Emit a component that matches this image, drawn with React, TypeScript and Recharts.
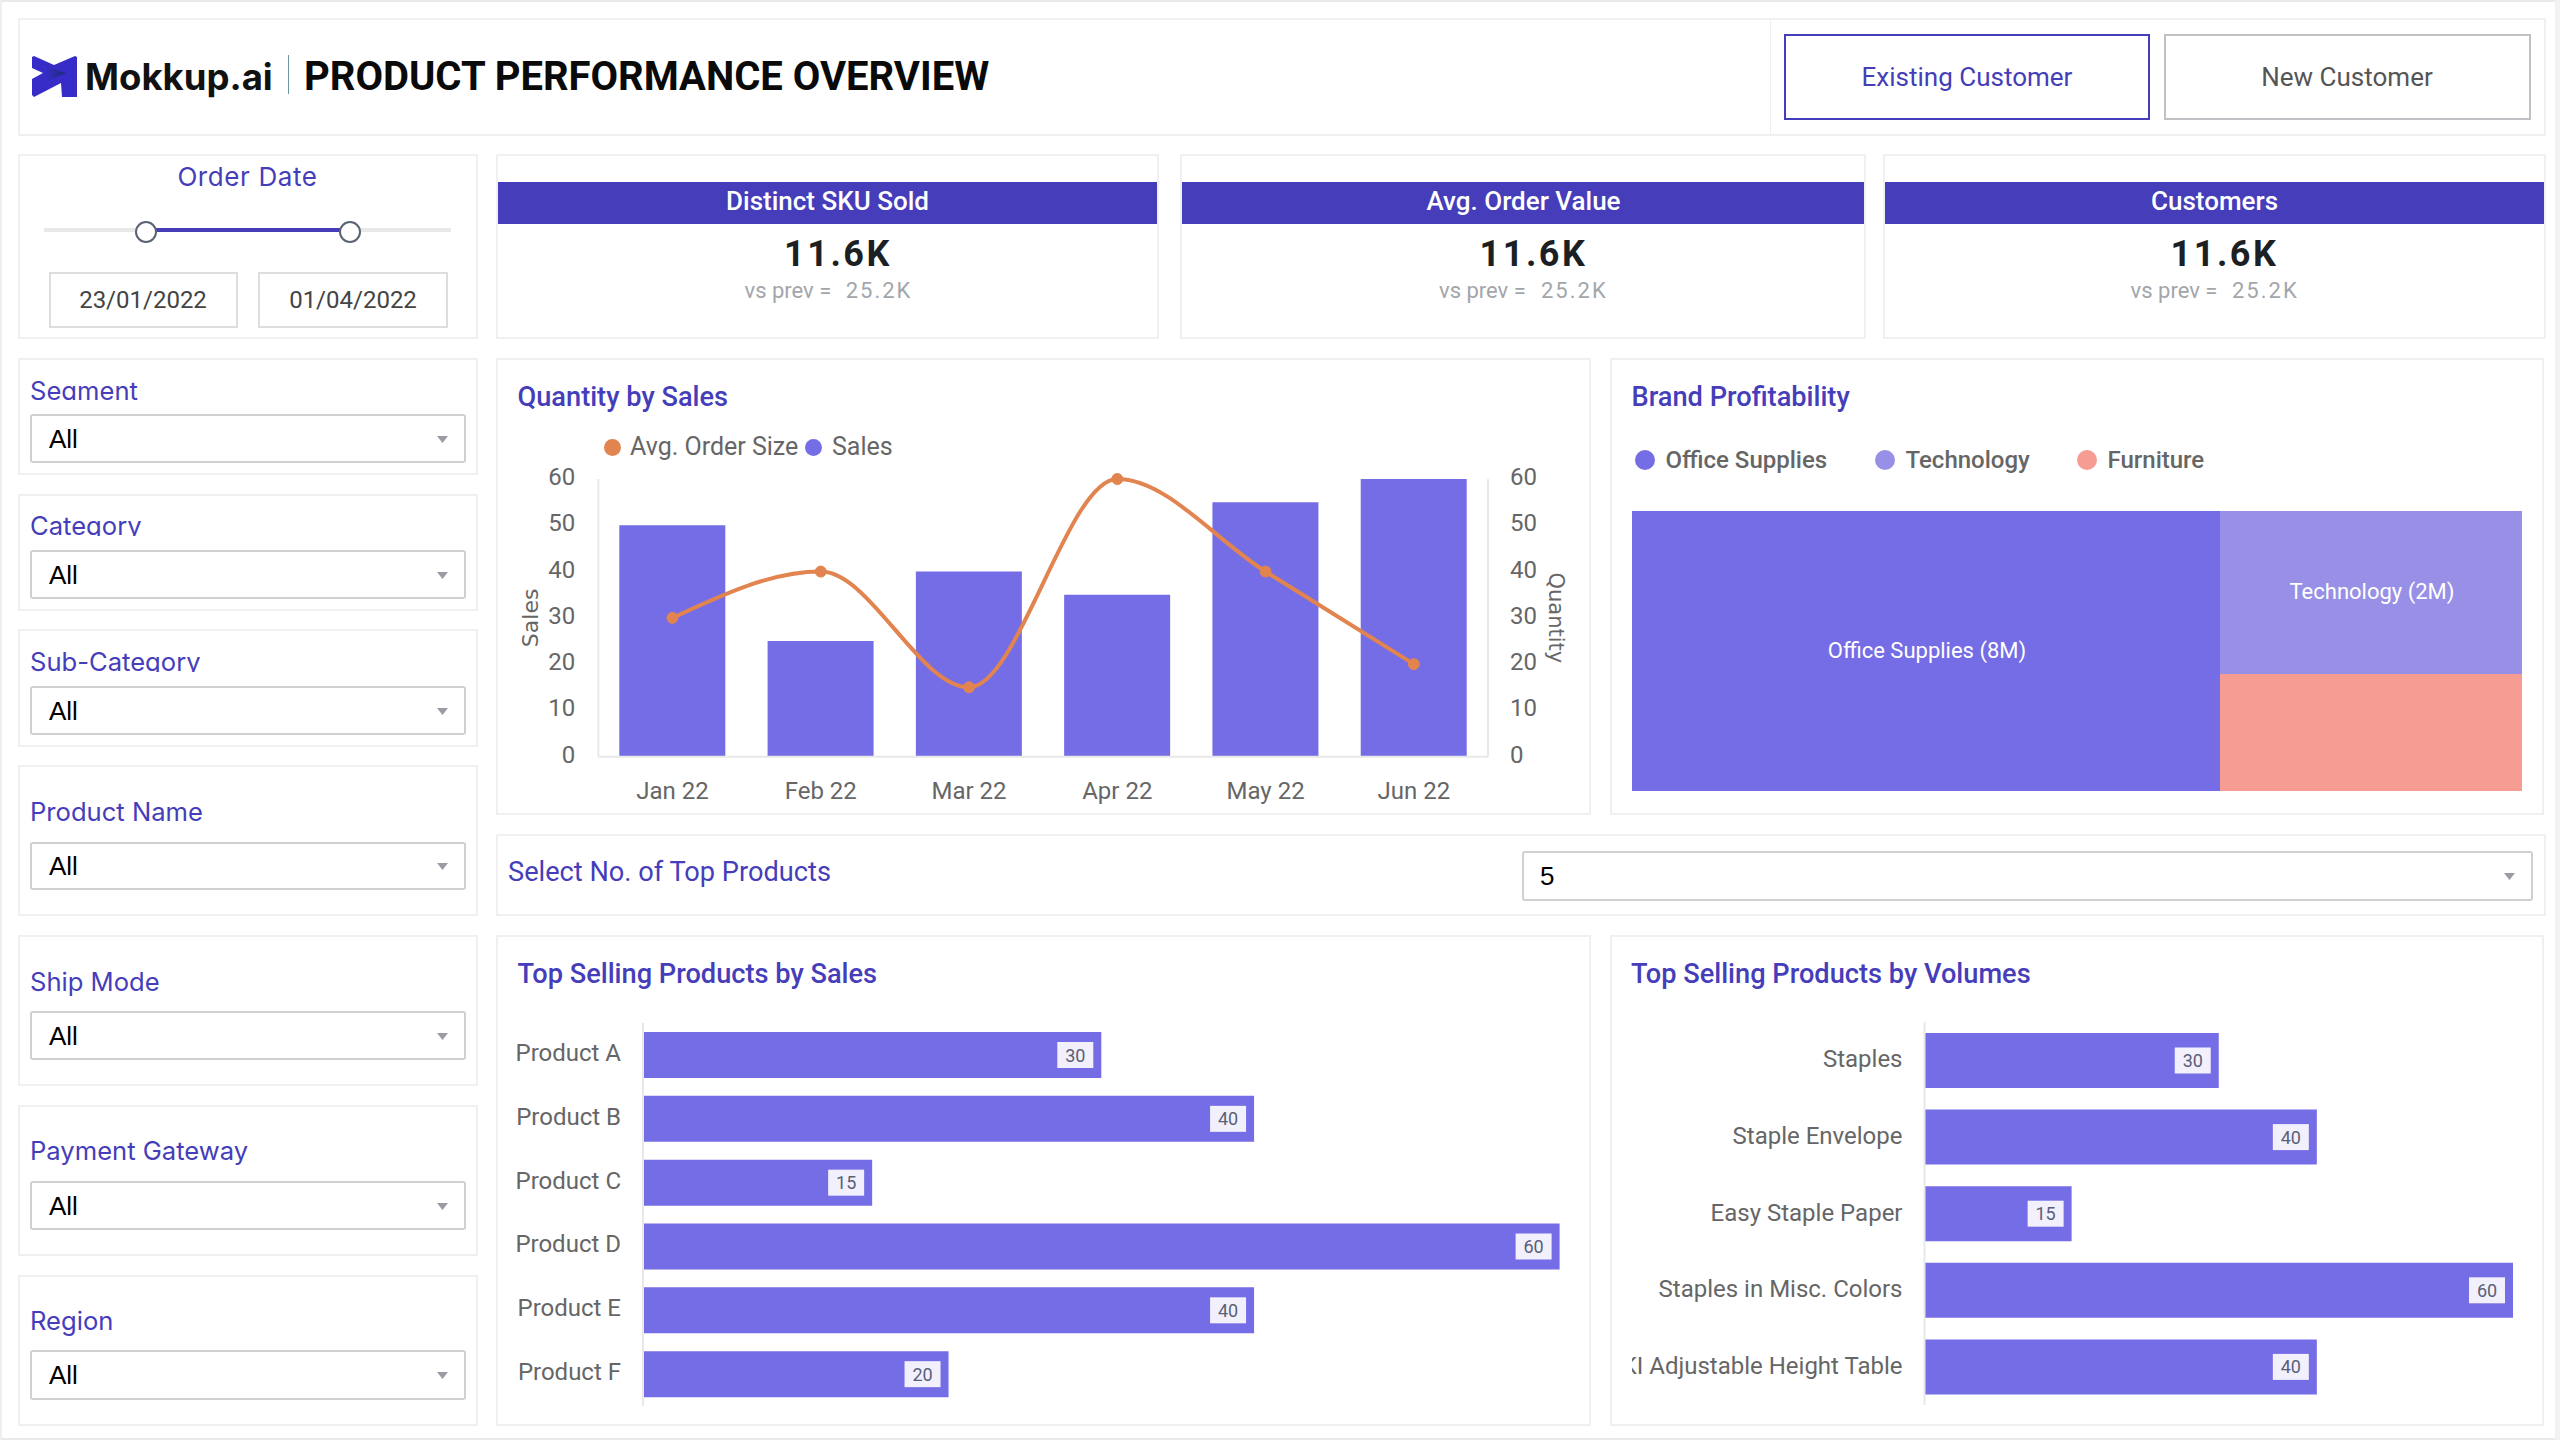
import React from "react";
import { ComposedChart, BarChart, Bar, Line, XAxis, YAxis, Treemap, LabelList } from "recharts";

const months = ["Jan 22", "Feb 22", "Mar 22", "Apr 22", "May 22", "Jun 22"];
const salesValues = [50, 25, 40, 35, 55, 60];
const orderSizeValues = [30, 40, 15, 60, 40, 20];
const axisTicks = [0, 10, 20, 30, 40, 50, 60];

const brandNames = ["Office Supplies", "Technology", "Furniture"];
const brandValues = [8, 2.38, 1.72];
const brandLabels = ["Office Supplies (8M)", "Technology (2M)", ""];
const brandColors = ["#746DE5", "#9890E6", "#F69C93"];

const topSalesNames = ["Product A", "Product B", "Product C", "Product D", "Product E", "Product F"];
const topSalesValues = [30, 40, 15, 60, 40, 20];
const topVolumeNames = ["Staples", "Staple Envelope", "Easy Staple Paper", "Staples in Misc. Colors", "KI Adjustable Height Table"];
const topVolumeValues = [30, 40, 15, 60, 40];

const INDIGO = "#453DBA";
const BAR = "#746DE5";
const ORANGE = "#E2844F";
const GRAY = "#666666";
const LINE = "#E8E8E8";
const SANS = "Roboto, sans-serif";
const LABEL = "Inter, sans-serif";

const comboData = months.map((m, i) => ({ month: m, sales: salesValues[i], size: orderSizeValues[i] }));
const brandData = brandNames.map((n, i) => ({ name: n, value: brandValues[i], idx: i }));
const salesData = topSalesNames.map((n, i) => ({ name: n, value: topSalesValues[i] }));
const volumeData = topVolumeNames.map((n, i) => ({ name: n, value: topVolumeValues[i] }));

function Panel({ l, t, r, b, color = "#F0F0F0", radius = 0, children }: any) {
  return (
    <div style={{ position: "absolute", left: l, top: t, width: r - l, height: b - t, boxSizing: "border-box", border: `2px solid ${color}`, borderRadius: radius, background: "#fff" }}>
      {children}
    </div>
  );
}

function T({ x, y, text, size = 24, color = GRAY, weight = 400, font = SANS, align = "left", spacing = 0, clipBottom }: any) {
  const lh = 40;
  const style: any = {
    position: "absolute",
    top: y - lh / 2,
    lineHeight: `${lh}px`,
    height: clipBottom != null ? clipBottom - (y - lh / 2) : lh,
    overflow: clipBottom != null ? "hidden" : "visible",
    fontSize: size,
    color,
    fontWeight: weight,
    fontFamily: font,
    letterSpacing: spacing,
    whiteSpace: "pre",
  };
  if (align === "left") style.left = x;
  if (align === "center") { style.left = x - 500; style.width = 1000; style.textAlign = "center"; }
  if (align === "right") { style.left = x - 1000; style.width = 1000; style.textAlign = "right"; }
  return <div style={style}>{text}</div>;
}

function Dot({ x, y, r, color }: any) {
  return <div style={{ position: "absolute", left: x - r, top: y - r, width: r * 2, height: r * 2, borderRadius: "50%", background: color }} />;
}

function Select({ l, t, r, b, value, textInset = 19 }: any) {
  const cy = (t + b) / 2;
  return (
    <>
      <Panel l={l} t={t} r={r} b={b} color="#D0D0D0" radius={3} />
      <T x={l + textInset} y={cy} text={value} size={26} color="#000" font="'Liberation Sans', Arial, sans-serif" />
      <svg style={{ position: "absolute", left: r - 29, top: cy - 3, width: 11, height: 7 }} viewBox="0 0 11 7">
        <polygon points="0,0 11,0 5.5,7" fill="#9A9CA5" />
      </svg>
    </>
  );
}

const filterBlocks = [
  { name: "Segment", t: 358, b: 475, ly: 391, clip: 400, st: 414, sb: 463 },
  { name: "Category", t: 494, b: 611, ly: 526, clip: 536, st: 550, sb: 599 },
  { name: "Sub-Category", t: 629, b: 747, ly: 661.5, clip: 672, st: 686, sb: 735 },
  { name: "Product Name", t: 765, b: 916, ly: 811.5, st: 842, sb: 890 },
  { name: "Ship Mode", t: 935, b: 1086, ly: 981.5, st: 1011, sb: 1060 },
  { name: "Payment Gateway", t: 1105, b: 1256, ly: 1150.5, st: 1181, sb: 1230 },
  { name: "Region", t: 1275, b: 1426, ly: 1320.5, st: 1350, sb: 1400 },
];

const kpis = [
  { title: "Distinct SKU Sold", l: 496, r: 1159, tc: 827.5, vc: 838, a: 744.5, c: 845.7 },
  { title: "Avg. Order Value", l: 1180, r: 1866, tc: 1523.5, vc: 1533.5, a: 1439, c: 1541 },
  { title: "Customers", l: 1883, r: 2546, tc: 2214.5, vc: 2224.5, a: 2130.6, c: 2232 },
];

function ValueTag({ x, y, width, height, value, inset }: any) {
  const right = x + width - inset;
  const cy = y + height / 2;
  return (
    <g>
      <rect x={right - 36} y={cy - 13} width={36} height={26} fill="#F1F0FC" />
      <text x={right - 18} y={cy} textAnchor="middle" dominantBaseline="central" fontSize={18} fontFamily={SANS} fill="#5A5E78">{value}</text>
    </g>
  );
}

function NameTick({ x, y, payload, dy }: any) {
  return (
    <text x={x} y={y + dy} textAnchor="end" dominantBaseline="central" fontSize={24} fontFamily={SANS} fill={GRAY}>
      {payload.value}
    </text>
  );
}

function BrandCell(props: any) {
  const { x, y, width, height, depth, idx } = props;
  if (depth !== 1) return <g />;
  return (
    <g>
      <rect x={x} y={y} width={width} height={height} fill={brandColors[idx]} stroke="none" />
      <text x={x + width / 2 + 1} y={y + height / 2 - 1} textAnchor="middle" dominantBaseline="central" fontSize={22} fontFamily={SANS} fill="#fff">
        {brandLabels[idx]}
      </text>
    </g>
  );
}

const axisTick = { fontSize: 24, fontFamily: SANS, fill: GRAY };
const yAxisTick = { ...axisTick, dy: -2.5 };
const axisLine = { stroke: LINE, strokeWidth: 2 };

export default function App() {
  return (
    <div style={{ position: "absolute", left: 0, top: 0, width: 2560, height: 1440, overflow: "hidden", background: "#fff", fontFamily: SANS }}>
      <div style={{ position: "absolute", left: 0, top: 0, width: 2560, height: 2, background: "#EAEAEA" }} />
      <div style={{ position: "absolute", left: 0, top: 1438, width: 2560, height: 2, background: "#EAEAEA" }} />
      <div style={{ position: "absolute", left: 0, top: 0, width: 2, height: 1440, background: "#EFEFEF" }} />
      <div style={{ position: "absolute", left: 2555, top: 0, width: 5, height: 1440, background: "#F2F2F2" }} />

      {/* header */}
      <Panel l={18} t={18} r={2546} b={136} />
      <div style={{ position: "absolute", left: 1770, top: 20, width: 1, height: 114, background: "#EFEFEF" }} />
      <svg style={{ position: "absolute", left: 32, top: 56, width: 45, height: 41 }} viewBox="0 0 45 41">
        <defs>
          <linearGradient id="lg" x1="0" x2="1" y1="0" y2="0">
            <stop offset="0" stopColor="#3A2FD0" />
            <stop offset="1" stopColor="#1C2A78" />
          </linearGradient>
        </defs>
        <polygon points="0,1 2,0 22,9 43,0 45,1 45,41 30,41 29,27 2,41 0,39 0,23 11,17 0,12" fill="#372CC8" />
        <polygon points="11,9 34,17 11,27 16,17" fill="url(#lg)" />
      </svg>
      <T x={85} y={77} text="Mokkup.ai" size={36.5} color="#111" weight={700} font={LABEL} />
      <div style={{ position: "absolute", left: 288, top: 55, width: 1, height: 39, background: "#6A9AA0" }} />
      <T x={304} y={76.5} text="PRODUCT PERFORMANCE OVERVIEW" size={40} color="#0A0A0A" weight={700} />
      <Panel l={1784} t={34} r={2150} b={120} color={INDIGO} />
      <T x={1967} y={77} text="Existing Customer" size={26} color={INDIGO} align="center" />
      <Panel l={2164} t={34} r={2531} b={120} color="#C0C0C5" />
      <T x={2347} y={77} text="New Customer" size={26} color="#555" align="center" />

      {/* date */}
      <Panel l={18} t={154} r={478} b={339} />
      <T x={247.5} y={177} text="Order Date" size={26} color={INDIGO} align="center" spacing={0.6} font={LABEL} />
      <div style={{ position: "absolute", left: 44, top: 228, width: 407, height: 4, background: "#E8E8E8" }} />
      <div style={{ position: "absolute", left: 146, top: 228, width: 204, height: 4, background: INDIGO }} />
      {[146, 349.5].map((cx) => (
        <div key={cx} style={{ position: "absolute", left: cx - 11, top: 221, width: 22, height: 22, boxSizing: "border-box", borderRadius: "50%", background: "#fff", border: "2px solid #5A6275" }} />
      ))}
      <Panel l={49} t={272} r={238} b={328} color="#DDDDDD" />
      <T x={143} y={300} text="23/01/2022" size={24} color="#444" align="center" />
      <Panel l={258} t={272} r={448} b={328} color="#DDDDDD" />
      <T x={353} y={300} text="01/04/2022" size={24} color="#444" align="center" />

      {/* kpis */}
      {kpis.map((k) => (
        <React.Fragment key={k.title}>
          <Panel l={k.l} t={154} r={k.r} b={339} />
          <div style={{ position: "absolute", left: k.l + 2, top: 182, width: k.r - k.l - 4, height: 42, background: INDIGO }} />
          <T x={k.tc} y={201} text={k.title} size={26} color="#fff" weight={500} align="center" />
          <T x={k.vc} y={254} text="11.6K" size={36} color="#1C1F24" weight={700} align="center" spacing={2.5} />
          <T x={k.a} y={291} text="vs prev =" size={22} color="#A2A6AB" />
          <T x={k.c} y={291} text="25.2K" size={22} color="#A2A6AB" spacing={2} />
        </React.Fragment>
      ))}

      {/* filters */}
      {filterBlocks.map((f) => (
        <React.Fragment key={f.name}>
          <Panel l={18} t={f.t} r={478} b={f.b} />
          <T x={30} y={f.ly} text={f.name} size={25.6} color={INDIGO} font={LABEL} clipBottom={f.clip} />
          <Select l={30} t={f.st} r={466} b={f.sb} value="All" />
        </React.Fragment>
      ))}

      {/* quantity by sales */}
      <Panel l={496} t={358} r={1591} b={815} />
      <T x={517.5} y={397} text="Quantity by Sales" size={27.2} color={INDIGO} weight={500} />
      <Dot x={612.6} y={447} r={8.5} color={ORANGE} />
      <T x={630} y={446.5} text="Avg. Order Size" size={25} />
      <Dot x={813.7} y={447} r={8.5} color={BAR} />
      <T x={832} y={446.5} text="Sales" size={25} />
      <div style={{ position: "absolute", left: 496, top: 358 }}>
        <ComposedChart width={1095} height={457} data={comboData} margin={{ top: 121, right: 0, bottom: 0, left: 0 }}>
          <XAxis dataKey="month" axisLine={axisLine} tickLine={false} tickSize={0} tickMargin={25} tick={axisTick} height={58.3} />
          <YAxis yAxisId="left" orientation="left" domain={[0, 60]} ticks={axisTicks} width={102.3} axisLine={axisLine} tickLine={false} tickSize={0} tickMargin={23} tick={yAxisTick} interval={0}
            label={{ value: "Sales", angle: -90, position: "insideLeft", offset: 34.5, style: { textAnchor: "middle", fontFamily: "'DejaVu Sans'", fontSize: 22, fill: GRAY } }} />
          <YAxis yAxisId="right" orientation="right" domain={[0, 60]} ticks={axisTicks} width={103} axisLine={axisLine} tickLine={false} tickSize={0} tickMargin={22} tick={yAxisTick} interval={0}
            label={{ value: "Quantity", angle: 90, position: "insideRight", offset: 34.5, style: { textAnchor: "middle", fontFamily: "'DejaVu Sans'", fontSize: 21, fill: GRAY } }} />
          <Bar yAxisId="left" dataKey="sales" fill={BAR} barSize={106} isAnimationActive={false} />
          <Line yAxisId="right" dataKey="size" type="monotone" stroke={ORANGE} strokeWidth={4} dot={{ r: 5.5, fill: ORANGE, stroke: ORANGE, strokeWidth: 1 }} isAnimationActive={false} />
        </ComposedChart>
      </div>

      {/* brand profitability */}
      <Panel l={1610} t={358} r={2544} b={815} />
      <T x={1631.5} y={397} text="Brand Profitability" size={27.2} color={INDIGO} weight={500} />
      {[{ d: 1645, t: 1665.5 }, { d: 1885, t: 1905.5 }, { d: 2087, t: 2107.5 }].map((p, i) => (
        <React.Fragment key={i}>
          <Dot x={p.d} y={459.5} r={10} color={brandColors[i]} />
          <T x={p.t} y={459.5} text={brandNames[i]} size={24} weight={500} />
        </React.Fragment>
      ))}
      <div style={{ position: "absolute", left: 1632, top: 510.5 }}>
        <Treemap width={890} height={280.5} data={brandData} dataKey="value" nameKey="name" content={<BrandCell />} stroke="none" isAnimationActive={false} />
      </div>

      {/* top products selector */}
      <Panel l={496} t={834} r={2546} b={916} />
      <T x={508} y={872} text="Select No. of Top Products" size={27.2} color={INDIGO} />
      <Select l={1522} t={851} r={2533} b={901} value="5" textInset={18} />

      {/* top by sales */}
      <Panel l={496} t={935} r={1591} b={1426} />
      <T x={517.5} y={974} text="Top Selling Products by Sales" size={27.2} color={INDIGO} weight={500} />
      <div style={{ position: "absolute", left: 496, top: 935 }}>
        <BarChart width={1095} height={491} data={salesData} layout="vertical" margin={{ top: 88, right: 31.4, bottom: 20, left: 0 }}>
          <XAxis type="number" domain={[0, 60]} hide />
          <YAxis type="category" dataKey="name" width={147} axisLine={axisLine} tickLine={false} tickSize={0} tickMargin={22} interval={0} tick={<NameTick dy={-2} />} />
          <Bar dataKey="value" fill={BAR} barSize={46} isAnimationActive={false}>
            <LabelList dataKey="value" content={(p: any) => <ValueTag {...p} inset={8} />} />
          </Bar>
        </BarChart>
      </div>

      {/* top by volumes */}
      <Panel l={1610} t={935} r={2544} b={1426} />
      <T x={1631} y={974} text="Top Selling Products by Volumes" size={27.2} color={INDIGO} weight={500} />
      <div style={{ position: "absolute", left: 1632, top: 935 }}>
        <BarChart width={910} height={491} data={volumeData} layout="vertical" margin={{ top: 87, right: 29, bottom: 21, left: 0 }}>
          <XAxis type="number" domain={[0, 60]} hide />
          <YAxis type="category" dataKey="name" width={292.5} axisLine={axisLine} tickLine={false} tickSize={0} tickMargin={22} interval={0} tick={<NameTick dy={-1} />} />
          <Bar dataKey="value" fill={BAR} barSize={55} isAnimationActive={false}>
            <LabelList dataKey="value" content={(p: any) => <ValueTag {...p} inset={8} />} />
          </Bar>
        </BarChart>
      </div>
    </div>
  );
}
